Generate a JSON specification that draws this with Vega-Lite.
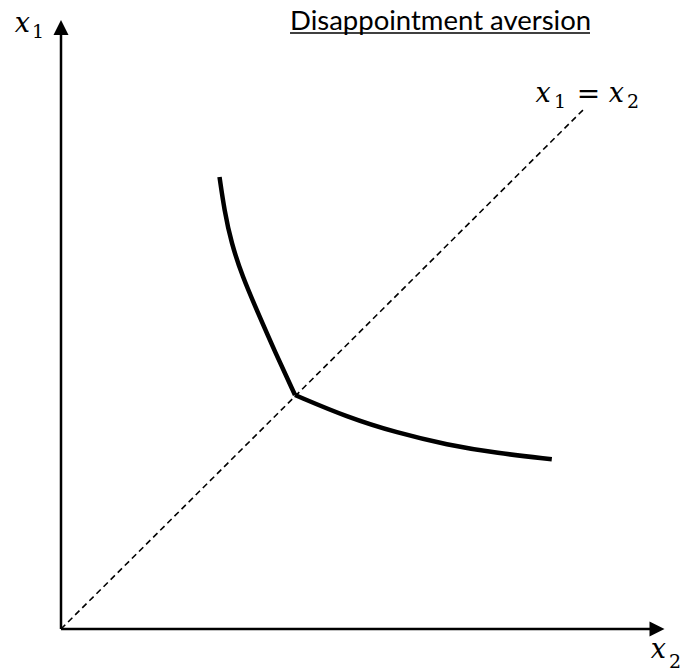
{
  "$schema": "https://vega.github.io/schema/vega-lite/v6.json",
  "width": 682,
  "height": 671,
  "padding": 0,
  "autosize": {"type": "none"},
  "background": "white",
  "config": {"view": {"stroke": null}},
  "datasets": {
    "diag": [{"x": 0, "y": 0}, {"x": 87, "y": 86.5}],
    "axes": [
      {"axis": "x2", "x": 0, "y": 0, "xe": 99, "ye": 0},
      {"axis": "x1", "x": 0, "y": 0, "xe": 0, "ye": 99}
    ],
    "arrows": [
      {"axis": "x2", "x": 99.33, "y": 0},
      {"axis": "x1", "x": 0, "y": 100.25}
    ],
    "curve": [
      {"segment": "upper", "x": 26.42, "y": 75.33},
      {"segment": "upper", "x": 27.22, "y": 69.83},
      {"segment": "upper", "x": 28.38, "y": 64.33},
      {"segment": "upper", "x": 30.27, "y": 58.67},
      {"segment": "upper", "x": 32.62, "y": 53.17},
      {"segment": "upper", "x": 35.75, "y": 46.0},
      {"segment": "upper", "x": 39.0, "y": 39.0},
      {"segment": "lower", "x": 39.0, "y": 39.0},
      {"segment": "lower", "x": 47.7, "y": 35.3},
      {"segment": "lower", "x": 56.0, "y": 32.7},
      {"segment": "lower", "x": 64.3, "y": 30.7},
      {"segment": "lower", "x": 72.7, "y": 29.3},
      {"segment": "lower", "x": 81.8, "y": 28.3}
    ],
    "title": [{"text": "Disappointment aversion", "x": 38.17, "y": 99.83, "xe": 88.17, "yu": 99.33}],
    "labels": [
      {"role": "var", "text": "x", "x": -7.7, "y": 99.5},
      {"role": "sub", "text": "1", "x": -4.83, "y": 98.5},
      {"role": "var", "text": "x", "x": 79.1, "y": 87.83},
      {"role": "sub", "text": "1", "x": 82.17, "y": 86.83},
      {"role": "eq", "text": "=", "x": 87.92, "y": 87.6},
      {"role": "var", "text": "x", "x": 91.3, "y": 87.83},
      {"role": "sub", "text": "2", "x": 94.33, "y": 86.83},
      {"role": "var", "text": "x", "x": 98.3, "y": -4.83},
      {"role": "sub", "text": "2", "x": 101.33, "y": -6.5}
    ]
  },
  "encoding": {
    "x": {"field": "x", "type": "quantitative", "axis": null, "scale": {"domain": [-10.1667, 103.5], "nice": false, "zero": false}},
    "y": {"field": "y", "type": "quantitative", "axis": null, "scale": {"domain": [-7, 104.8333], "nice": false, "zero": false}}
  },
  "layer": [
    {
      "data": {"name": "diag"},
      "mark": {"type": "line", "color": "black", "strokeWidth": 1.6, "strokeDash": [6, 4]},
      "encoding": {}
    },
    {
      "data": {"name": "axes"},
      "mark": {"type": "rule", "color": "black", "strokeWidth": 2.5},
      "encoding": {
        "x2": {"field": "xe"},
        "y2": {"field": "ye"}
      }
    },
    {
      "data": {"name": "arrows"},
      "transform": [{"filter": "datum.axis === 'x1'"}],
      "mark": {"type": "point", "filled": true, "color": "black", "opacity": 1, "size": 225, "shape": "M0,-1L1,1L-1,1Z"},
      "encoding": {}
    },
    {
      "data": {"name": "arrows"},
      "transform": [{"filter": "datum.axis === 'x2'"}],
      "mark": {"type": "point", "filled": true, "color": "black", "opacity": 1, "size": 225, "shape": "M1,0L-1,-1L-1,1Z"},
      "encoding": {}
    },
    {
      "data": {"name": "curve"},
      "mark": {"type": "line", "color": "black", "strokeWidth": 4.5, "interpolate": "basis", "strokeJoin": "miter", "strokeCap": "butt"},
      "encoding": {"detail": {"field": "segment"}}
    },
    {
      "data": {"name": "title"},
      "mark": {"type": "text", "align": "left", "baseline": "alphabetic", "font": "Lato", "fontSize": 27.5, "color": "black"},
      "encoding": {"text": {"field": "text"}}
    },
    {
      "data": {"name": "title"},
      "mark": {"type": "rule", "color": "black", "strokeWidth": 1.6},
      "encoding": {"x2": {"field": "xe"}, "y": {"field": "yu", "type": "quantitative"}}
    },
    {
      "data": {"name": "labels"},
      "transform": [{"filter": "datum.role === 'var'"}],
      "mark": {"type": "text", "align": "left", "baseline": "alphabetic", "font": "DejaVu Serif", "fontStyle": "italic", "fontSize": 27, "color": "black"},
      "encoding": {"text": {"field": "text"}}
    },
    {
      "data": {"name": "labels"},
      "transform": [{"filter": "datum.role === 'sub'"}],
      "mark": {"type": "text", "align": "left", "baseline": "alphabetic", "font": "DejaVu Serif", "fontSize": 19, "color": "black"},
      "encoding": {"text": {"field": "text"}}
    },
    {
      "data": {"name": "labels"},
      "transform": [{"filter": "datum.role === 'eq'"}],
      "mark": {"type": "text", "align": "center", "baseline": "alphabetic", "font": "DejaVu Serif", "fontSize": 28, "color": "black"},
      "encoding": {"text": {"field": "text"}}
    }
  ]
}
